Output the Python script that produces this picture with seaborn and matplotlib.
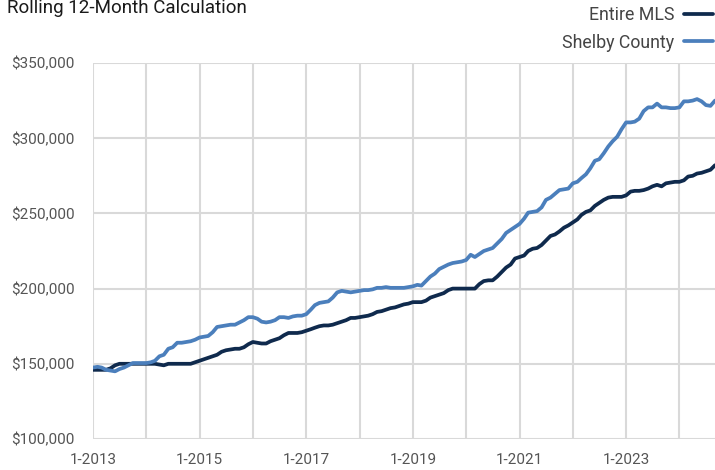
import numpy as np
import pandas as pd
import matplotlib
matplotlib.use("Agg")
import matplotlib.pyplot as plt
import matplotlib.dates as mdates
from matplotlib.ticker import FuncFormatter, FixedLocator
from matplotlib.lines import Line2D
import seaborn as sns

# ---- data (thousands of dollars, monthly 1-2013 .. 9-2024) ----
entire_mls = [
    146, 146, 146, 146, 147, 149, 150, 150, 150, 150, 150, 150,            # 2013
    150, 150, 150, 149.5, 149, 150, 150, 150, 150, 150, 150, 151,          # 2014
    152, 153, 154, 155, 156, 158, 159, 159.5, 160, 160, 161, 163,          # 2015
    164.5, 164, 163.5, 163.5, 165, 166, 167, 169, 170.5, 170.5, 170.5, 171,  # 2016
    172, 173, 174, 175, 175.5, 175.5, 176, 177, 178, 179, 180.5, 180.5,    # 2017
    181, 181.5, 182, 183, 184.5, 185, 186, 187, 187.5, 188.5, 189.5, 190,  # 2018
    191, 191, 191, 192, 194, 195, 196, 197, 199, 200, 200, 200,            # 2019
    200, 200, 200, 203, 205, 205.5, 205.5, 208, 211, 214, 216, 220,        # 2020
    221, 222, 225, 226.5, 227, 229, 232, 235, 236, 238, 240.5, 242,        # 2021
    244, 246, 249, 251, 252, 255, 257, 259, 260.5, 261, 261, 261,          # 2022
    262, 264.5, 265, 265, 265.5, 266.5, 268, 269, 268, 270, 270.5, 271,    # 2023
    271, 272, 274.5, 275, 276.5, 277, 278, 279, 282,                       # 2024
]
shelby_county = [
    147.5, 148, 147.5, 146, 145.5, 145, 146.5, 147.5, 149, 150.5, 150.5, 150.5,  # 2013
    150.5, 151, 152, 155, 156, 160, 161, 164, 164, 164.5, 165, 166,        # 2014
    167.5, 168, 168.5, 171, 174.5, 175, 175.5, 176, 176, 177.5, 179, 181,  # 2015
    181, 180, 178, 177.5, 178, 179, 181, 181, 180.5, 181.5, 182, 182,      # 2016
    183, 186, 189, 190.5, 191, 191.5, 194, 197.5, 198.5, 198, 197.5, 198,  # 2017
    198.5, 199, 199, 199.5, 200.5, 200.5, 201, 200.5, 200.5, 200.5, 200.5, 201,  # 2018
    201.5, 202.5, 202, 205, 208, 210, 213, 214.5, 216, 217, 217.5, 218,    # 2019
    219, 222.5, 221, 223, 225, 226, 227, 230, 233, 237, 239, 241,          # 2020
    243, 246.5, 250.5, 251, 251.5, 254, 259, 260.5, 263, 265.5, 266, 266.5,  # 2021
    270, 271, 273.5, 276, 280, 285, 286, 290, 294.5, 298, 301, 306,        # 2022
    310.5, 310.5, 311, 313, 318, 320.5, 320.5, 323, 320.5, 320.5, 320, 320,  # 2023
    320.5, 324.5, 324.5, 325, 326, 324.5, 322, 321.5, 325,                 # 2024
]
series_names = ["Entire MLS", "Shelby County"]
series_colors = ["#0f2a4d", "#4b7fbc"]
title_text = "Rolling 12-Month Calculation"
y_ticks = [100000, 150000, 200000, 250000, 300000, 350000]
label_years = [2013, 2015, 2017, 2019, 2021, 2023]
grid_years = list(range(2013, 2025))

dates = pd.date_range("2013-01-01", periods=len(entire_mls), freq="MS")
df = pd.concat([
    pd.DataFrame({"date": dates, "value": np.array(entire_mls) * 1000, "series": series_names[0]}),
    pd.DataFrame({"date": dates, "value": np.array(shelby_county) * 1000, "series": series_names[1]}),
])

sns.set_style("white")
plt.rcParams["font.family"] = ["Roboto", "DejaVu Sans"]

fig = plt.figure(figsize=(7.15, 4.70), dpi=100)
ax = fig.add_axes([93 / 715, 1 - 439 / 470, 1 - 93 / 715, (439 - 63) / 470])

grid_c = "#d9d9d9"
sns.lineplot(data=df, x="date", y="value", hue="series", palette=series_colors,
             hue_order=series_names, linewidth=2.7, ax=ax, legend=False, zorder=3)

ax.set_xlim(dates[0], dates[-1])
ax.set_ylim(100000, 350000)
ax.set_yticks(y_ticks)
ax.yaxis.set_major_formatter(FuncFormatter(lambda v, p: f"${v:,.0f}"))

major_pos = [mdates.date2num(pd.Timestamp(f"{y}-01-01")) for y in label_years]
minor_pos = [mdates.date2num(pd.Timestamp(f"{y}-01-01")) for y in grid_years if y not in label_years]
ax.xaxis.set_major_locator(FixedLocator(major_pos))
ax.xaxis.set_minor_locator(FixedLocator(minor_pos))
ax.xaxis.set_major_formatter(FuncFormatter(lambda v, p: f"{mdates.num2date(v).month}-{mdates.num2date(v).year}"))

ax.grid(True, which="both", axis="x", color=grid_c, linewidth=1.5, zorder=0)
ax.grid(True, which="major", axis="y", color=grid_c, linewidth=1.5, zorder=0)
ax.set_axisbelow(True)
for s in ax.spines.values():
    s.set_visible(False)

ax.tick_params(axis="y", which="major", length=7, width=1.5, color=grid_c,
               labelsize=11, labelcolor="#555555", pad=6)
ax.tick_params(axis="x", which="both", length=6, width=1.5, color=grid_c,
               labelsize=11, labelcolor="#555555", pad=4)
ax.set_xlabel("")
ax.set_ylabel("")

fig.text(7 / 715, 1 - 8 / 470, title_text, fontsize=13.5, color="#1a1a1a", ha="left", va="center")

handles = [Line2D([0], [0], color=c, linewidth=2.7) for c in series_colors]
fig.legend(handles, series_names, loc="upper right", bbox_to_anchor=(1.0, 1 - 4 / 470),
           frameon=False, markerfirst=False, fontsize=12.8, labelcolor="#444444",
           handlelength=1.65, handletextpad=0.55, borderpad=0.1, borderaxespad=0.0,
           labelspacing=0.55)

fig.savefig("out.png", dpi=100)
